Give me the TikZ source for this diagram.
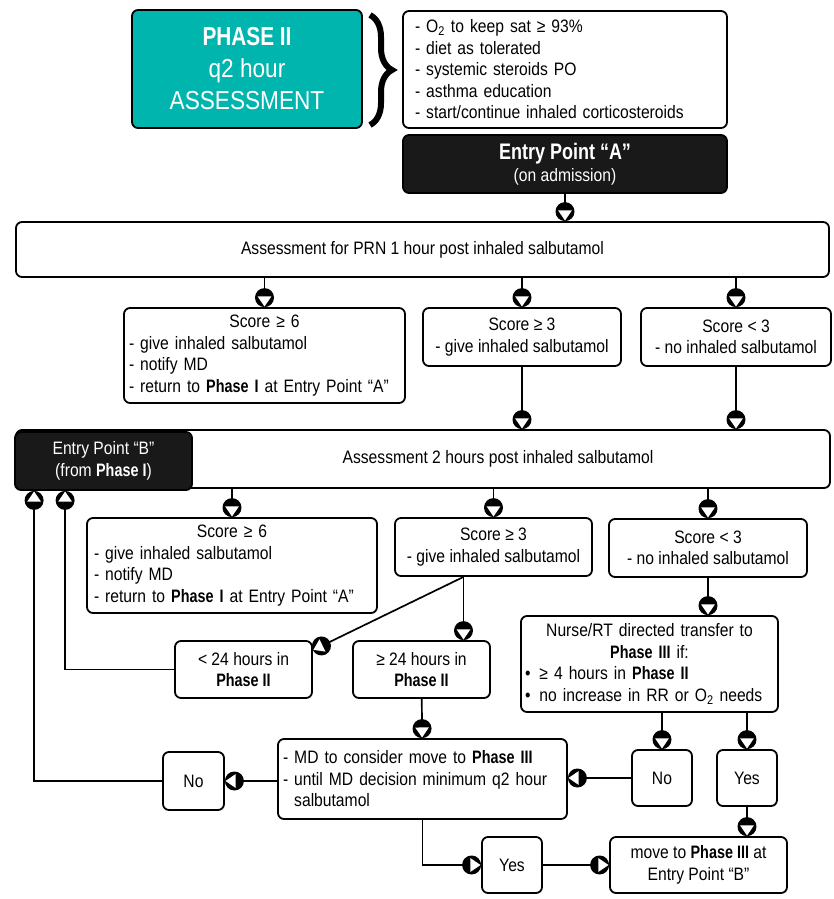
\documentclass[tikz,border=0pt]{standalone}
\usepackage{fontspec}
\setmainfont[FakeStretch=0.87, BoldFeatures={FakeStretch=0.8}]{Liberation Sans}
\usetikzlibrary{arrows.meta,positioning,decorations.pathreplacing}
\definecolor{phaseteal}{RGB}{0,181,173}
\newcommand\bodyfont{\fontsize{18}{21.5}\selectfont}
\newcommand\headfont{\fontsize{26}{32}\selectfont}
% round knob with a white triangle as arrow tip
\pgfdeclarearrow{
  name = Knob,
  parameters = {\the\pgfarrowlength},
  setup code = {
    \pgfarrowssettipend{0pt}
    \pgfarrowssetlineend{-.5\pgfarrowlength}
    \pgfarrowssetvisualbackend{-\pgfarrowlength}
    \pgfarrowssetbackend{-\pgfarrowlength}
    \pgfarrowshullpoint{0pt}{0pt}
    \pgfarrowsupperhullpoint{-.5\pgfarrowlength}{.5\pgfarrowlength}
    \pgfarrowsupperhullpoint{-\pgfarrowlength}{.5\pgfarrowlength}
    \pgfarrowssavethe\pgfarrowlength
  },
  drawing code = {
    \pgfsetfillcolor{black}
    \pgfpathcircle{\pgfpoint{-.5\pgfarrowlength}{0pt}}{.5\pgfarrowlength}
    \pgfusepathqfill
    \pgfsetfillcolor{white}
    \pgfpathmoveto{\pgfpoint{-.03\pgfarrowlength}{0pt}}
    \pgfpathlineto{\pgfpoint{-.56\pgfarrowlength}{.36\pgfarrowlength}}
    \pgfpathlineto{\pgfpoint{-.56\pgfarrowlength}{-.36\pgfarrowlength}}
    \pgfpathclose
    \pgfusepathqfill
  },
  defaults = {length = 19pt}
}
\tikzset{
    stage/.style={
           rectangle,
           rounded corners=6pt,
           draw=black, line width=1.8pt,
           inner sep=3pt,
           align=center,
           font=\bodyfont,
           },
    dark/.style={stage, fill=black!90, text=white},
    pil/.style={
           -{Knob},
           line width=1.7pt,}
}
\begin{document}
\begin{tikzpicture}[x=1pt, y=-1pt]
\useasboundingbox (0,0) rectangle (833,899);
% Heading and general orders
\node[stage, fill=phaseteal, text=white, font=\headfont,
      minimum width=230, minimum height=118] (HEAD) at (247,69)
{\textbf{PHASE II}\\q2 hour\\ASSESSMENT};
\node[stage, align=left, text width=300, minimum width=324,
      minimum height=117] (ORDERS) at (565,69.5)
{- O\textsubscript{2} to keep sat ≥ 93\%\\
- diet as tolerated\\
- systemic steroids PO\\
- asthma education\\
- start/continue inhaled corticosteroids};
\draw[line width=6pt, decorate, decoration={brace, amplitude=22pt}]
  (370,15) -- (370,125);
% Entry Point A
\node[dark, minimum width=324, minimum height=58] (ENTRYA) at (565,164)
{{\fontsize{22.5}{25}\selectfont\textbf{Entry Point ``A''}}\\(on admission)};
% First assessment
\node[stage, minimum width=813, minimum height=55] (PRN) at (422.5,249.5)
{Assessment for PRN 1 hour post inhaled salbutamol};
\node[stage, align=left, text width=271, minimum width=281,
      minimum height=95] (HIGHA) at (264.5,355.5)
{{\centering Score ≥ 6\par}
- give inhaled salbutamol\\
- notify MD\\
- return to \textbf{Phase I} at Entry Point ``A''};
\node[stage, minimum width=198, minimum height=58] (MIDA) at (522,337)
{Score ≥ 3\\- give inhaled salbutamol};
\node[stage, minimum width=190, minimum height=58] (LOWA) at (736,337)
{Score < 3\\- no inhaled salbutamol};
% Second assessment
\node[stage, minimum width=814, minimum height=58] (POST) at (423,459)
{\hspace*{150pt}Assessment 2 hours post inhaled salbutamol};
\node[dark, minimum width=177, minimum height=58] (ENTRYB) at (103.5,461)
{Entry Point ``B''\\(from \textbf{Phase I})};
\node[stage, align=left, text width=276, minimum width=290,
      minimum height=95] (HIGHB) at (232,565.5)
{{\centering Score ≥ 6\par}
- give inhaled salbutamol\\
- notify MD\\
- return to \textbf{Phase I} at Entry Point ``A''};
\node[stage, minimum width=197, minimum height=58] (MIDB) at (493.5,547)
{Score ≥ 3\\- give inhaled salbutamol};
\node[stage, minimum width=198, minimum height=58] (LOWB) at (708,548)
{Score < 3\\- no inhaled salbutamol};
\node[stage, align=left, text width=249, minimum width=257,
      minimum height=96] (NURSE) at (649.5,664)
{{\centering Nurse/RT directed transfer to\\\textbf{Phase III} if:\par}
\textbullet\hspace{9pt}≥ 4 hours in \textbf{Phase II}\\
\textbullet\hspace{9pt}no increase in RR or O\textsubscript{2} needs};
\node[stage, minimum width=137, minimum height=57] (UNDER) at (243.5,669.5)
{< 24 hours in\\\textbf{Phase II}};
\node[stage, minimum width=137, minimum height=57] (OVER) at (421.5,669.5)
{≥ 24 hours in\\\textbf{Phase II}};
% MD decision
\node[stage, align=left, text width=279, minimum width=289,
      minimum height=80] (MD) at (422.5,779)
{- MD to consider move to \textbf{Phase III}\\
- until MD decision minimum q2 hour\\
\phantom{- }salbutamol};
\node[stage, minimum width=61, minimum height=58] (NOLEFT) at (193.5,781) {No};
\node[stage, minimum width=60, minimum height=56] (NORIGHT) at (662,778) {No};
\node[stage, minimum width=60, minimum height=56] (YESRIGHT) at (747,778) {Yes};
\node[stage, minimum width=60, minimum height=56] (YESLOW) at (512,865) {Yes};
\node[stage, minimum width=177, minimum height=56] (MOVE) at (698.5,865)
{move to \textbf{Phase III} at\\Entry Point ``B''};
% Helper points
\coordinate (INB1) at ([xshift=20pt]ENTRYB.south west);
\coordinate (INB2) at ([xshift=51pt]ENTRYB.south west);
\coordinate (SPLIT) at ([xshift=-30pt]MIDB.south);
% Draw lines on graph
\draw[pil] (ENTRYA) -- (ENTRYA |- PRN.north);
\draw[pil] (PRN.south -| HIGHA) -- (HIGHA);
\draw[pil] (PRN.south -| MIDA) -- (MIDA);
\draw[pil] (PRN.south -| LOWA) -- (LOWA);
\draw[pil] (MIDA) -- (MIDA |- POST.north);
\draw[pil] (LOWA) -- (LOWA |- POST.north);
\draw[pil] (POST.south -| HIGHB) -- (HIGHB);
\draw[pil] (POST.south -| MIDB) -- (MIDB);
\draw[pil] (POST.south -| LOWB) -- (LOWB);
\draw[pil] (LOWB) -- (LOWB |- NURSE.north);
\draw[pil] (SPLIT) -- (SPLIT |- OVER.north);
\draw[pil] (SPLIT) -- ([yshift=-10pt]UNDER.north east);
\draw[pil] (UNDER.west) -| (INB2);
\draw[pil] (OVER) -- (MD);
\draw[pil] (MD.west |- NOLEFT) -- (NOLEFT);
\draw[pil] (NOLEFT.west) -| (INB1);
\draw[pil] (NURSE.south -| NORIGHT) -- (NORIGHT);
\draw[pil] (NURSE.south -| YESRIGHT) -- (YESRIGHT);
\draw[pil] (NORIGHT) -- (NORIGHT -| MD.east);
\draw[pil] (YESRIGHT) -- (YESRIGHT |- MOVE.north);
\draw[pil] (MD.south) |- (YESLOW);
\draw[pil] (YESLOW) -- (MOVE);
\end{tikzpicture}
\end{document}
